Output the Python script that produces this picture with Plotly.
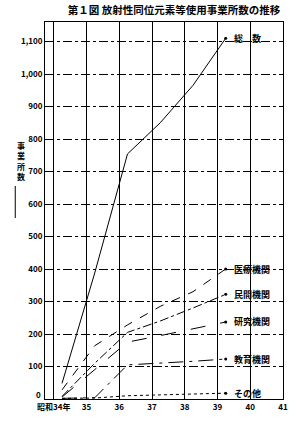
import plotly.graph_objects as go

years = [34, 35, 36, 37, 38, 39]
point_offset = 0.25  # points plotted a quarter-year after the grid line
total = [48, 388, 754, 850, 965, 1110]
medical = [28, 164, 228, 285, 330, 400]
private = [8, 110, 205, 240, 280, 322]
research = [6, 90, 175, 195, 215, 237]
education = [2, 4, 105, 110, 116, 123]
other = [2, 3, 10, 13, 15, 18]

series_names = ["総　数", "医療機関", "民間機関", "研究機関", "教育機関", "その他"]
series_values = [total, medical, private, research, education, other]
series_dash = ["solid", "dash", "dashdot", "longdash", "longdashdot", "dot"]

x_tick_vals = [34, 35, 36, 37, 38, 39, 40, 41]
x_tick_text = ["昭和34年", "35", "36", "37", "38", "39", "40", "41"]
y_tick_vals = list(range(100, 1200, 100))
y_tick_text = ["100", "200", "300", "400", "500", "600", "700", "800", "900", "1,000", "1,100"]

FONT = "Noto Sans CJK JP"
xs = [y + point_offset for y in years]

fig = go.Figure()
for name, vals, dash in zip(series_names, series_values, series_dash):
    fig.add_trace(go.Scatter(
        x=xs, y=vals, mode="lines", name=name,
        line=dict(color="black", width=1, dash=dash),
        showlegend=False,
    ))
    fig.add_trace(go.Scatter(
        x=[xs[-1]], y=[vals[-1]], mode="markers",
        marker=dict(color="black", size=3), showlegend=False, hoverinfo="skip",
    ))
    fig.add_annotation(
        x=xs[-1], y=vals[-1], text="<b>" + name + "</b>", showarrow=False,
        xanchor="left", xshift=6, yanchor="middle",
        font=dict(family=FONT, size=9, color="black"),
    )

fig.update_layout(
    width=300, height=426,
    margin=dict(l=45, r=15, t=22, b=27),
    paper_bgcolor="white", plot_bgcolor="white",
    title=dict(text="<b>第１図 放射性同位元素等使用事業所数の推移</b>",
               x=0.58, xanchor="center", y=0.975, yanchor="middle",
               font=dict(family=FONT, size=10.5, color="black")),
    font=dict(family=FONT, size=8, color="black"),
)
fig.update_xaxes(
    range=[33.73, 41.0], tickvals=x_tick_vals,
    ticktext=["<b>" + t + "</b>" for t in x_tick_text],
    showgrid=True, gridcolor="black", gridwidth=1, griddash="solid",
    showline=True, linecolor="black", linewidth=1, mirror=True,
    ticks="", tickfont=dict(family=FONT, size=8, color="black"),
    zeroline=False,
)
fig.update_yaxes(
    range=[0, 1160], tickvals=y_tick_vals,
    ticktext=["<b>" + t + "</b>" for t in y_tick_text],
    showgrid=True, gridcolor="black", gridwidth=1, griddash="dashdot",
    showline=True, linecolor="black", linewidth=1, mirror=True,
    ticks="", tickfont=dict(family=FONT, size=8, color="black"),
    zeroline=False,
)
# zero label, raised a little so it clears the year label below it
fig.add_annotation(
    xref="paper", yref="y", x=0, y=0, text="<b>0</b>", showarrow=False,
    xanchor="right", yanchor="bottom", xshift=-2, yshift=-3,
    font=dict(family=FONT, size=8, color="black"),
)
fig.add_annotation(
    xref="paper", yref="paper", x=-0.125, y=0.63, text="<b>事<br>業<br>所<br>数</b>",
    showarrow=False, font=dict(family=FONT, size=8, color="black"), align="center",
)
fig.add_shape(type="line", xref="paper", yref="paper", x0=-0.125, x1=-0.125,
              y0=0.48, y1=0.565, line=dict(color="black", width=1))

fig.write_html("out.html")
